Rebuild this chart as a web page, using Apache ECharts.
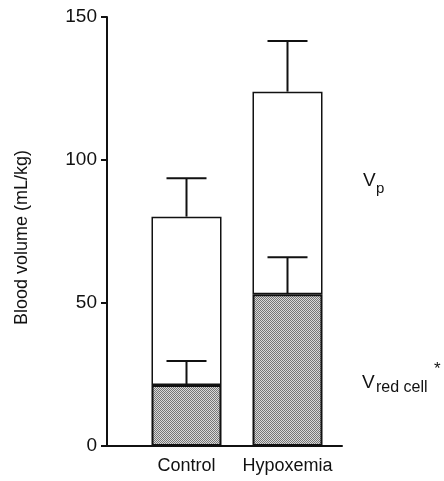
<!DOCTYPE html>
<html>
<head>
<meta charset="utf-8">
<script src="https://cdn.jsdelivr.net/npm/echarts@6/dist/echarts.min.js"></script>
<style>
html,body{margin:0;padding:0;background:#fff;}
#chart{width:444px;height:481px;}
</style>
</head>
<body>
<div id="chart"></div>
<script>
var categories = ['Control', 'Hypoxemia'];
var redCellVolume = [21.3, 53.1];
var totalVolume = [80.2, 123.9];
var redCellErrTop = [29.7, 66.0];
var totalErrTop = [93.6, 141.6];
var yTicks = [0, 50, 100, 150];

var plasmaVolume = totalVolume.map(function (t, i) { return t - redCellVolume[i]; });

// stipple pattern
var pc = document.createElement('canvas');
pc.width = 2; pc.height = 2;
var pctx = pc.getContext('2d');
pctx.fillStyle = '#dadada'; pctx.fillRect(0, 0, 2, 2);
pctx.fillStyle = '#767676'; pctx.fillRect(0, 0, 1, 1); pctx.fillRect(1, 1, 1, 1);

var errData = [];
categories.forEach(function (c, i) {
  errData.push([i, redCellVolume[i], redCellErrTop[i]]);
  errData.push([i, totalVolume[i], totalErrTop[i]]);
});

var font = '"Liberation Sans", Arial, Helvetica, sans-serif';

var chart = echarts.init(document.getElementById('chart'), null, {renderer: 'canvas'});
chart.setOption({
  animation: false,
  backgroundColor: '#fff',
  grid: [
    {left: 136, right: 106, top: 17, bottom: 35},
    {left: 107, right: 102, top: 17, bottom: 35}
  ],
  xAxis: [
    {
      type: 'category', gridIndex: 0, data: categories,
      axisLine: {show: false}, axisTick: {show: false},
      axisLabel: {color: '#111', fontSize: 18, fontFamily: font, margin: 11, interval: 0, hideOverlap: false}
    },
    {
      type: 'value', gridIndex: 1, min: 0, max: 1,
      axisLine: {show: true, lineStyle: {color: '#111', width: 2}},
      axisTick: {show: false}, axisLabel: {show: false}, splitLine: {show: false}
    }
  ],
  yAxis: [
    {type: 'value', gridIndex: 0, min: 0, max: 150, show: false, splitLine: {show: false}},
    {
      type: 'value', gridIndex: 1, min: 0, max: 150, interval: 50,
      axisLine: {show: true, lineStyle: {color: '#111', width: 2}},
      axisTick: {show: true, length: 6, lineStyle: {color: '#111', width: 2}},
      axisLabel: {color: '#111', fontSize: 19, fontFamily: font, margin: 10, padding: [6, 0, 0, 0],
        formatter: function (v) { return yTicks.indexOf(v) >= 0 ? String(v) : ''; }},
      splitLine: {show: false},
      name: 'Blood volume (mL/kg)', nameLocation: 'middle', nameGap: 76,
      nameTextStyle: {color: '#111', fontSize: 18, fontFamily: font, padding: [0, 12, 0, 0]}
    }
  ],
  series: [
    {
      type: 'bar', xAxisIndex: 0, yAxisIndex: 0, stack: 'v', barWidth: 70,
      data: redCellVolume,
      itemStyle: {color: {image: pc, repeat: 'repeat'}, borderColor: '#111', borderWidth: 2}
    },
    {
      type: 'bar', xAxisIndex: 0, yAxisIndex: 0, stack: 'v', barWidth: 70,
      data: plasmaVolume,
      itemStyle: {color: '#fff', borderColor: '#111', borderWidth: 1.5}
    },
    {
      type: 'custom', xAxisIndex: 0, yAxisIndex: 0, z: 10,
      data: errData,
      renderItem: function (params, api) {
        var base = api.coord([api.value(0), api.value(1)]);
        var top = api.coord([api.value(0), api.value(2)]);
        var hw = 20;
        var st = {stroke: '#111', lineWidth: 2, fill: null};
        return {
          type: 'group',
          children: [
            {type: 'line', shape: {x1: base[0], y1: base[1], x2: top[0], y2: top[1]}, style: st},
            {type: 'line', shape: {x1: top[0] - hw, y1: top[1], x2: top[0] + hw, y2: top[1]}, style: st}
          ]
        };
      }
    }
  ],
  graphic: [
    {type: 'text', left: 363, top: 171, style: {text: 'V', fontSize: 19, fontFamily: font, fill: '#111'}},
    {type: 'text', left: 376, top: 181, style: {text: 'p', fontSize: 15, fontFamily: font, fill: '#111'}},
    {type: 'text', left: 362, top: 373, style: {text: 'V', fontSize: 19, fontFamily: font, fill: '#111'}},
    {type: 'text', left: 376, top: 380, style: {text: 'red cell', fontSize: 16, fontFamily: font, fill: '#111'}},
    {type: 'text', left: 434, top: 361, style: {text: '*', fontSize: 17, fontFamily: font, fill: '#111'}}
  ]
});
</script>
</body>
</html>
